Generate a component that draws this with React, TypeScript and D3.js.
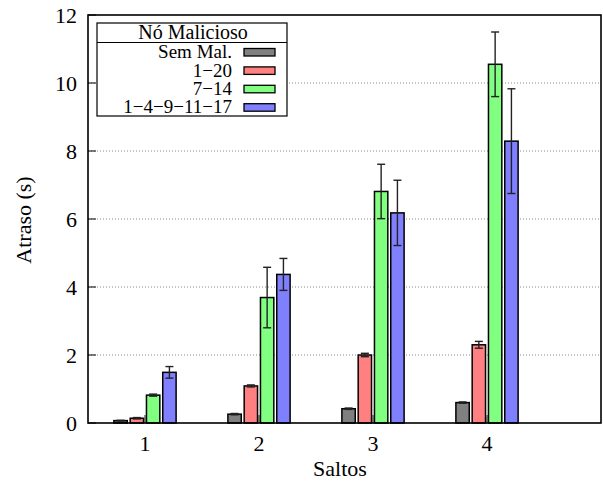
import React from "react";
import * as d3 from "d3";

// Hop counts on the x axis
const hops = [1, 2, 3, 4];

// Malicious-node scenarios (legend entries) and their fill colours
const seriesNames = ["Sem Mal.", "1\u221220", "7\u221214", "1\u22124\u22129\u221211\u221217"];
const seriesColors = ["#808080", "#ff8080", "#80ff80", "#8080ff"];

// Mean delay (s) per scenario, one value per hop count
const semMal = [0.07, 0.26, 0.42, 0.6];
const mal1_20 = [0.14, 1.09, 2.0, 2.3];
const mal7_14 = [0.82, 3.69, 6.81, 10.55];
const mal1_4_9_11_17 = [1.49, 4.37, 6.18, 8.29];

// Error-bar half-widths (s)
const errSemMal = [0.01, 0.02, 0.02, 0.02];
const err1_20 = [0.02, 0.03, 0.05, 0.1];
const err7_14 = [0.03, 0.89, 0.8, 0.95];
const err1_4_9_11_17 = [0.17, 0.47, 0.96, 1.54];

const yTicks = [0, 2, 4, 6, 8, 10, 12];

const seriesValues = [semMal, mal1_20, mal7_14, mal1_4_9_11_17];
const seriesErrors = [errSemMal, err1_20, err7_14, err1_4_9_11_17];

const W = 603;
const H = 483;
const left = 88;
const right = 601;
const top = 15;
const bottom = 423;

const FONT = '"Liberation Serif", "DejaVu Serif", Tinos, "Times New Roman", Times, serif';

export default function App() {
  const x = d3.scaleLinear().domain([0.5, 5.0]).range([left, right]);
  const y = d3.scaleLinear().domain([0, 12]).range([bottom, top]);

  const groupStep = x(2) - x(1);
  const slot = groupStep / 7; // 4 bars + gap of 3 slots
  const barW = slot * 0.82;
  const capW = 8;

  const legendX = 97;
  const legendY = 23;
  const legendW = 190;
  const legendH = 93;
  const rowH = 18.4;

  const txt = { fontFamily: FONT } as React.CSSProperties;

  return (
    <svg
      width={W}
      height={H}
      style={{ position: "absolute", left: 0, top: 0, background: "#fff", fontFamily: FONT }}
    >
      <rect x={0} y={0} width={W} height={H} fill="#fff" />

      {/* horizontal dotted grid */}
      {yTicks
        .filter((t) => t > 0 && t < 12)
        .map((t) => (
          <line
            key={`g${t}`}
            x1={left}
            x2={right}
            y1={y(t)}
            y2={y(t)}
            stroke="#888"
            strokeWidth={1}
            strokeDasharray="1,2"
          />
        ))}

      {/* y tick marks and labels */}
      {yTicks.map((t) => (
        <g key={`y${t}`}>
          <line x1={left} x2={left + 8} y1={y(t)} y2={y(t)} stroke="#000" strokeWidth={1} />
          <text
            x={77}
            y={y(t)}
            dy="0.35em"
            textAnchor="end"
            fontSize={22}
            fill="#000"
            style={txt}
          >
            {t}
          </text>
        </g>
      ))}

      {/* x tick marks (drawn under the bars) */}
      {hops.map((h) => (
        <line key={`xt${h}`} x1={x(h)} x2={x(h)} y1={bottom} y2={bottom - 8} stroke="#222" strokeWidth={1} />
      ))}

      {/* bars */}
      {hops.map((h, gi) =>
        seriesValues.map((vals, si) => {
          const cx = x(h) + (si - 1.5) * slot;
          const v = vals[gi];
          return (
            <rect
              key={`b${gi}-${si}`}
              x={cx - barW / 2}
              y={y(v)}
              width={barW}
              height={y(0) - y(v)}
              fill={seriesColors[si]}
              stroke="#000"
              strokeWidth={1.5}
            />
          );
        })
      )}

      {/* error bars */}
      {hops.map((h, gi) =>
        seriesValues.map((vals, si) => {
          const cx = x(h) + (si - 1.5) * slot;
          const v = vals[gi];
          const e = seriesErrors[si][gi];
          const y1 = y(v + e);
          const y2 = y(Math.max(0, v - e));
          return (
            <g key={`e${gi}-${si}`} stroke="#222" strokeWidth={1.4}>
              <line x1={cx} x2={cx} y1={y1} y2={y2} />
              <line x1={cx - capW / 2} x2={cx + capW / 2} y1={y1} y2={y1} />
              <line x1={cx - capW / 2} x2={cx + capW / 2} y1={y2} y2={y2} />
            </g>
          );
        })
      )}

      {/* x tick labels */}
      {hops.map((h) => (
        <text key={`xl${h}`} x={x(h)} y={451} textAnchor="middle" fontSize={22} fill="#000" style={txt}>
          {h}
        </text>
      ))}

      {/* plot frame */}
      <rect
        x={left}
        y={top}
        width={right - left}
        height={bottom - top}
        fill="none"
        stroke="#000"
        strokeWidth={1.6}
      />

      {/* axis titles */}
      <text x={340} y={476} textAnchor="middle" fontSize={22} fill="#000" style={txt}>
        Saltos
      </text>
      <text
        transform={`translate(31, 220) rotate(-90)`}
        textAnchor="middle"
        fontSize={22}
        fill="#000"
        style={txt}
      >
        Atraso (s)
      </text>

      {/* legend */}
      <g>
        <rect
          x={legendX}
          y={legendY}
          width={legendW}
          height={legendH}
          fill="#fff"
          stroke="#000"
          strokeWidth={1.2}
        />
        <line
          x1={legendX}
          x2={legendX + legendW}
          y1={legendY + 19.5}
          y2={legendY + 19.5}
          stroke="#000"
          strokeWidth={1.2}
        />
        <text x={193} y={legendY + 16} textAnchor="middle" fontSize={20} fill="#000" style={txt}>
          Nó Malicioso
        </text>
        {seriesNames.map((name, i) => {
          const cy = legendY + 29 + i * rowH;
          return (
            <g key={`l${i}`}>
              <text x={232} y={cy} dy="0.33em" textAnchor="end" fontSize={19} fill="#000" style={txt}>
                {name}
              </text>
              <rect
                x={244}
                y={cy - 3.5}
                width={31}
                height={7.5}
                fill={seriesColors[i]}
                stroke="#000"
                strokeWidth={1.3}
              />
            </g>
          );
        })}
      </g>
    </svg>
  );
}
